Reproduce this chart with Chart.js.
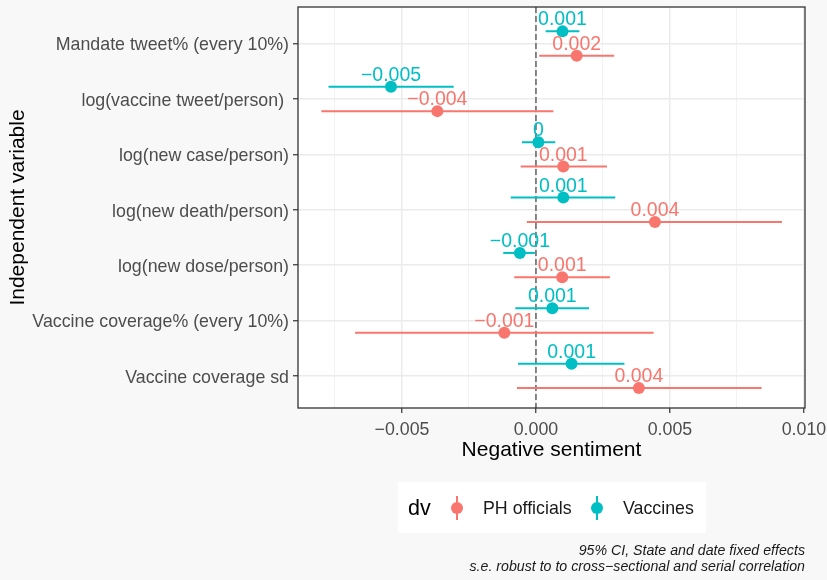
<!DOCTYPE html>
<html>
<head>
<meta charset="utf-8">
<script src="https://cdn.jsdelivr.net/npm/chart.js@4.4.1/dist/chart.umd.min.js"></script>
<style>
  html, body { margin: 0; padding: 0; background: #f8f8f8; }
  #wrap { width: 827px; height: 580px; }
</style>
</head>
<body>
<div id="wrap"><canvas id="coefChart" width="827" height="580"></canvas></div>
<script>
// variables, top to bottom
const variables = [
  'Mandate tweet% (every 10%)',
  'log(vaccine tweet/person) ',
  'log(new case/person)',
  'log(new death/person)',
  'log(new dose/person)',
  'Vaccine coverage% (every 10%)',
  'Vaccine coverage sd'
];

// dv = PH officials
const phEstimate = [0.00152, -0.00368, 0.00102, 0.00444, 0.00098, -0.00118, 0.00384];
const phLow      = [0.00012, -0.00801, -0.00057, -0.00034, -0.00081, -0.00675, -0.00071];
const phHigh     = [0.00292, 0.00065, 0.00265, 0.00918, 0.00276, 0.00439, 0.00842];

// dv = Vaccines
const vacEstimate = [0.00099, -0.00541, 0.00009, 0.00102, -0.00060, 0.00061, 0.00133];
const vacLow      = [0.00036, -0.00774, -0.00052, -0.00094, -0.00122, -0.00077, -0.00067];
const vacHigh     = [0.00162, -0.00307, 0.00072, 0.00296, -0.00004, 0.00198, 0.00330];

const xMajorTicks = [-0.005, 0, 0.005, 0.010];

const PH_COLOR = '#F8766D';
const VAC_COLOR = '#00BFC4';
const FONT = "'Liberation Sans', Arial, Helvetica, sans-serif";

function fmt(v) {
  // R style: round to 3 digits, drop trailing zeros
  const r = Number(v.toFixed(3));
  return String(r === 0 ? 0 : r).replace('-', '\u2212');
}

function isMajor(v) {
  return xMajorTicks.some(t => Math.abs(t - v) < 1e-9);
}

function makePoints(est, lo, hi, off) {
  return est.map((e, i) => ({ x: e, y: i + 1 + off, lo: lo[i], hi: hi[i] }));
}

const extras = {
  id: 'extras',
  beforeDraw(chart) {
    const { ctx, chartArea: a } = chart;
    ctx.save();
    ctx.fillStyle = '#ffffff';
    ctx.fillRect(a.left, a.top, a.right - a.left, a.bottom - a.top);
    ctx.restore();
  },
  beforeDatasetsDraw(chart) {
    const { ctx, chartArea: a, scales: { x, y } } = chart;
    ctx.save();
    // reference line at zero
    const x0 = x.getPixelForValue(0);
    ctx.strokeStyle = '#6b6b6b';
    ctx.lineWidth = 1.6;
    ctx.setLineDash([6, 3]);
    ctx.beginPath();
    ctx.moveTo(x0, a.top);
    ctx.lineTo(x0, a.bottom);
    ctx.stroke();
    ctx.setLineDash([]);
    // confidence intervals
    chart.data.datasets.forEach(ds => {
      ctx.strokeStyle = ds.backgroundColor;
      ctx.lineWidth = 2;
      ds.data.forEach(p => {
        const py = y.getPixelForValue(p.y);
        ctx.beginPath();
        ctx.moveTo(x.getPixelForValue(p.lo), py);
        ctx.lineTo(x.getPixelForValue(p.hi), py);
        ctx.stroke();
      });
    });
    ctx.restore();
  },
  afterDatasetsDraw(chart) {
    const { ctx, scales: { x, y } } = chart;
    ctx.save();
    ctx.font = '19.5px ' + FONT;
    ctx.textAlign = 'center';
    ctx.textBaseline = 'alphabetic';
    chart.data.datasets.forEach(ds => {
      ctx.fillStyle = ds.backgroundColor;
      ds.data.forEach(p => {
        ctx.fillText(fmt(p.x), x.getPixelForValue(p.x), y.getPixelForValue(p.y) - 6);
      });
    });
    ctx.restore();
  },
  afterDraw(chart) {
    const { ctx, chartArea: a } = chart;
    ctx.save();
    // panel border
    ctx.strokeStyle = '#333333';
    ctx.lineWidth = 1.3;
    ctx.strokeRect(a.left, a.top, a.right - a.left, a.bottom - a.top);

    // legend
    ctx.fillStyle = '#ffffff';
    ctx.fillRect(398, 482, 308, 51);
    ctx.textBaseline = 'middle';
    ctx.textAlign = 'left';
    ctx.fillStyle = '#000000';
    ctx.font = '21.5px ' + FONT;
    ctx.fillText('dv', 408, 509);
    const keys = [
      { label: 'PH officials', color: PH_COLOR, kx: 457, tx: 483 },
      { label: 'Vaccines', color: VAC_COLOR, kx: 597, tx: 623 }
    ];
    ctx.font = '17.8px ' + FONT;
    keys.forEach(k => {
      ctx.strokeStyle = k.color;
      ctx.lineWidth = 2;
      ctx.beginPath();
      ctx.moveTo(k.kx, 496);
      ctx.lineTo(k.kx, 520);
      ctx.stroke();
      ctx.fillStyle = k.color;
      ctx.beginPath();
      ctx.arc(k.kx, 508, 6, 0, Math.PI * 2);
      ctx.fill();
      ctx.fillStyle = '#1a1a1a';
      ctx.fillText(k.label, k.tx, 509);
    });

    // caption
    ctx.font = 'italic 14.2px ' + FONT;
    ctx.textAlign = 'right';
    ctx.fillStyle = '#1a1a1a';
    ctx.fillText('95% CI, State and date fixed effects', 805, 551);
    ctx.fillText('s.e. robust to to cross\u2212sectional and serial correlation', 805, 567);
    ctx.restore();
  }
};

const ctx = document.getElementById('coefChart').getContext('2d');
const coefChart = new Chart(ctx, {
  type: 'scatter',
  data: {
    datasets: [
      {
        label: 'PH officials',
        data: makePoints(phEstimate, phLow, phHigh, 0.22),
        backgroundColor: PH_COLOR,
        borderWidth: 0,
        pointRadius: 6,
        pointHoverRadius: 6
      },
      {
        label: 'Vaccines',
        data: makePoints(vacEstimate, vacLow, vacHigh, -0.22),
        backgroundColor: VAC_COLOR,
        borderWidth: 0,
        pointRadius: 6,
        pointHoverRadius: 6
      }
    ]
  },
  options: {
    responsive: false,
    animation: false,
    devicePixelRatio: 1,
    layout: { padding: { top: 7, right: 22, bottom: 117, left: 0 } },
    plugins: {
      legend: { display: false },
      tooltip: { enabled: false }
    },
    scales: {
      x: {
        type: 'linear',
        min: -0.00888,
        max: 0.01004,
        afterFit(scale) {
          scale.height = 55;
          scale.paddingLeft = 0;
          scale.paddingRight = 0;
        },
        ticks: {
          stepSize: 0.0025,
          includeBounds: false,
          autoSkip: false,
          maxRotation: 0,
          padding: 6,
          color: '#4d4d4d',
          font: { family: FONT, size: 17.8 },
          callback: v => isMajor(v) ? v.toFixed(3).replace('-', '\u2212') : ''
        },
        grid: {
          color: c => isMajor(c.tick.value) ? '#ebebeb' : '#f2f2f2',
          lineWidth: c => isMajor(c.tick.value) ? 1.5 : 1,
          tickColor: c => isMajor(c.tick.value) ? '#333333' : 'rgba(0,0,0,0)',
          tickLength: 5,
          tickWidth: 1.2
        },
        border: { display: false },
        title: {
          display: true,
          text: 'Negative sentiment',
          color: '#000000',
          font: { family: FONT, size: 21 },
          padding: { top: 0, bottom: 0 }
        }
      },
      y: {
        type: 'linear',
        reverse: true,
        min: 0.34,
        max: 7.58,
        afterBuildTicks(scale) {
          scale.ticks = variables.map((v, i) => ({ value: i + 1 }));
        },
        afterFit(scale) {
          scale.width = 298;
          scale.paddingTop = 0;
          scale.paddingBottom = 0;
        },
        ticks: {
          autoSkip: false,
          padding: 4,
          labelOffset: 2,
          color: '#4d4d4d',
          font: { family: FONT, size: 17.8 },
          callback: v => variables[Math.round(v) - 1]
        },
        grid: {
          color: '#ebebeb',
          lineWidth: 1.5,
          tickColor: '#333333',
          tickLength: 5,
          tickWidth: 1.2
        },
        border: { display: false },
        title: {
          display: true,
          text: 'Independent variable',
          color: '#000000',
          font: { family: FONT, size: 21 },
          padding: { top: 6, bottom: 0 }
        }
      }
    }
  },
  plugins: [extras]
});
</script>
</body>
</html>
